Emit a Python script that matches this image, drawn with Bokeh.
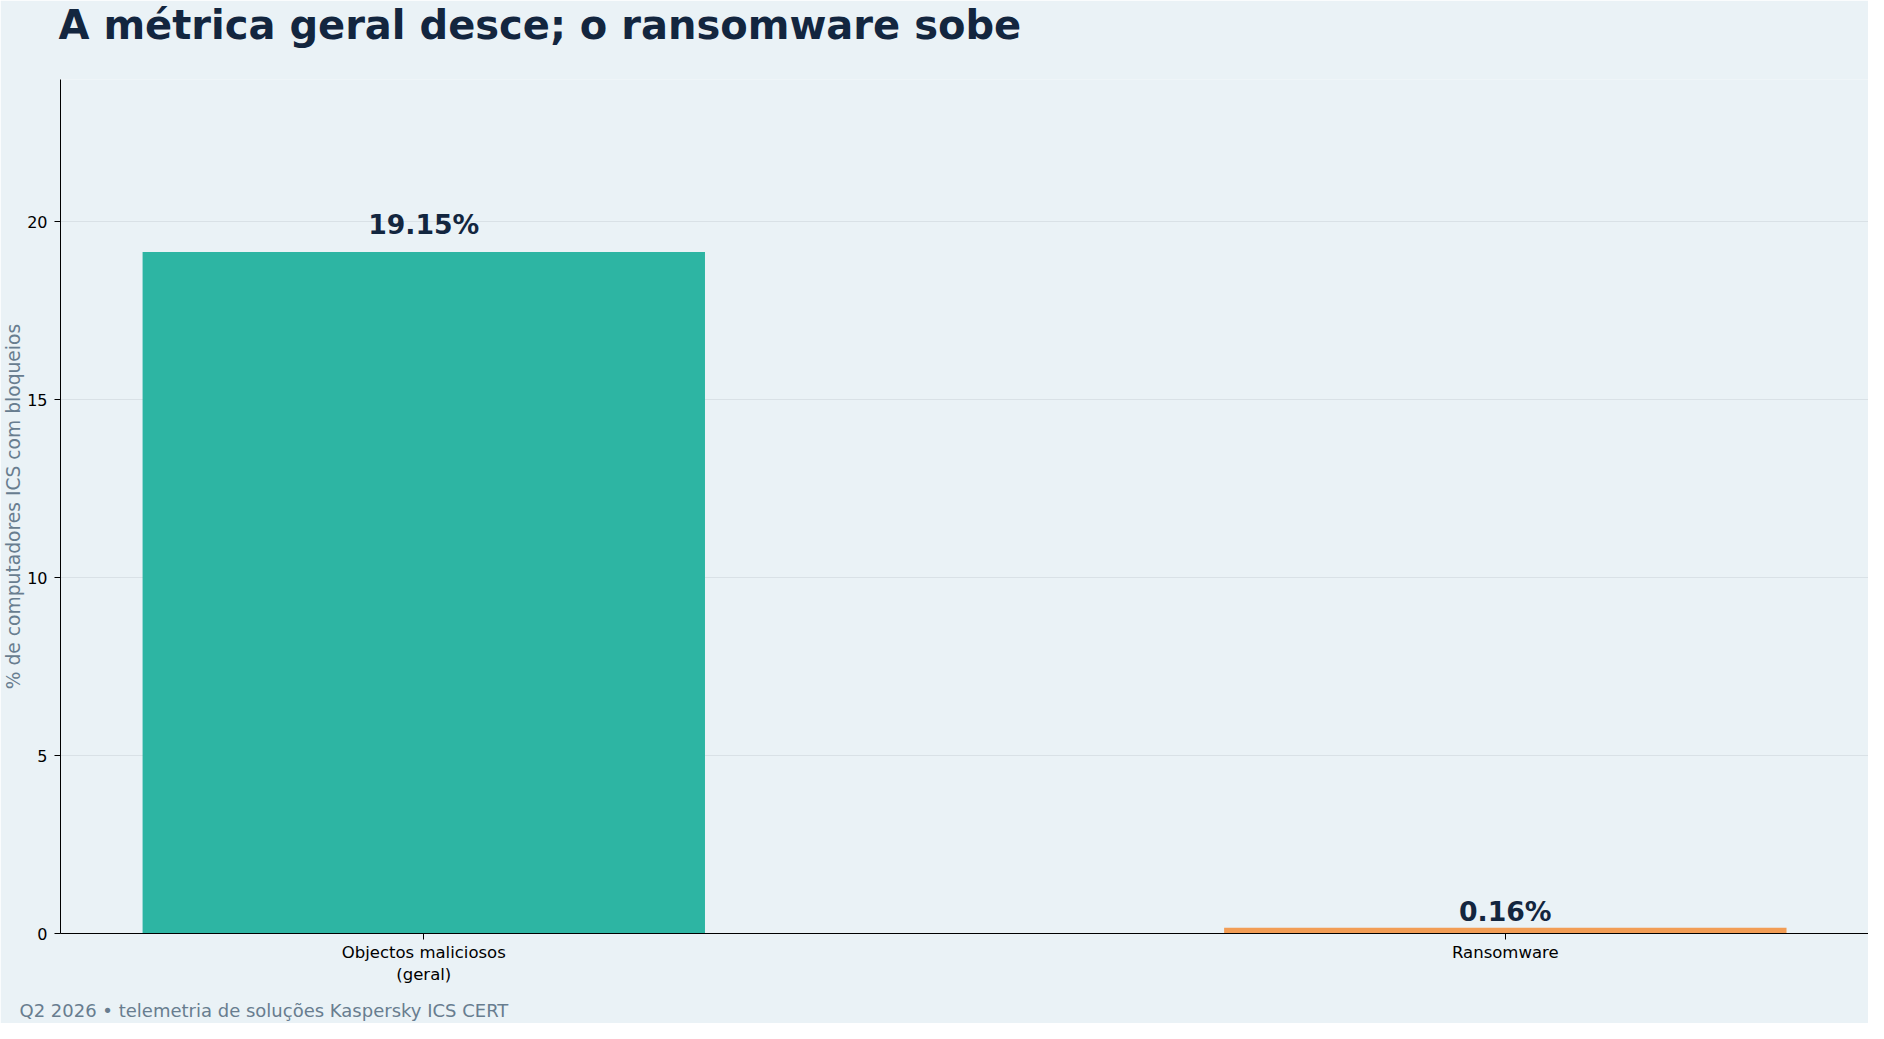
from bokeh.plotting import figure
from bokeh.models import Range1d, FixedTicker, Label, ColumnDataSource
from bokeh.core.properties import value
from bokeh.embed import file_html
from bokeh.resources import INLINE

# ---- data ----
categories = ["Objectos maliciosos\n(geral)", "Ransomware"]
values = [19.15, 0.16]
value_labels = ["19.15%", "0.16%"]
bar_colors = ["#2db5a3", "#f29d55"]
y_ticks = [0, 5, 10, 15, 20]

title_text = "A métrica geral desce; o ransomware sobe"
y_label = "% de computadores ICS com bloqueios"
footer_text = "Q2 2026 • telemetria de soluções Kaspersky ICS CERT"

BG = "#eaf2f6"
NAVY = "#13263f"
GREY = "#687d8f"
FONT = "DejaVu Sans"

idx = list(range(len(categories)))
label_y = [v * 1.017 + 0.165 for v in values]

src = ColumnDataSource(dict(x=idx, top=values, color=bar_colors,
                            ly=label_y, lab=value_labels))

p = figure(width=1868, height=1023, output_backend="svg", toolbar_location=None,
           x_range=Range1d(-0.3359, 1.3358), y_range=Range1d(0, 24),
           min_border_top=79, min_border_bottom=90, min_border_left=40,
           min_border_right=0)
p.background_fill_color = BG
p.border_fill_color = BG
p.outline_line_color = None

p.vbar(x="x", top="top", width=0.52, color="color", source=src, line_color=None)

p.text(x="x", y="ly", text="lab", source=src, text_align="center",
       text_baseline="alphabetic", text_font=value(FONT), text_font_style="bold",
       text_font_size="26.7px", text_color=NAVY, y_offset=-10)

# axes
p.xaxis.ticker = FixedTicker(ticks=idx)
p.xaxis.major_label_overrides = {i: c for i, c in zip(idx, categories)}
p.yaxis.ticker = FixedTicker(ticks=y_ticks)
for ax in (p.xaxis, p.yaxis):
    ax.axis_line_color = "black"
    ax.axis_line_width = 1
    ax.major_tick_line_color = "black"
    ax.major_tick_out = 6
    ax.major_tick_in = 0
    ax.minor_tick_line_color = None
    ax.major_label_text_font = FONT
    ax.major_label_text_color = "black"
p.xaxis.major_label_text_font_size = "16.5px"
p.xaxis.major_label_standoff = 3
p.yaxis.major_label_text_font_size = "16px"
p.yaxis.major_label_standoff = 7
p.yaxis.axis_label = y_label
p.yaxis.axis_label_text_font = FONT
p.yaxis.axis_label_text_font_size = "18.7px"
p.yaxis.axis_label_text_font_style = "normal"
p.yaxis.axis_label_text_color = GREY
p.yaxis.axis_label_standoff = 0

p.xgrid.grid_line_color = None
p.ygrid.grid_line_color = "#d9e1e6"
p.ygrid.grid_line_width = 1

title = Label(text=title_text, x=58, y=24, x_units="canvas", y_units="canvas",
              text_font=FONT, text_font_size="40px", text_font_style="bold",
              text_color=NAVY, text_align="left", text_baseline="alphabetic")
p.add_layout(title, "above")

foot = Label(text=footer_text, x=19, y=1010, x_units="canvas", y_units="canvas",
             text_font=FONT, text_font_size="18px", text_color=GREY,
             text_align="left", text_baseline="alphabetic")
p.add_layout(foot, "below")

open("out.html", "w").write(file_html(p, INLINE))
